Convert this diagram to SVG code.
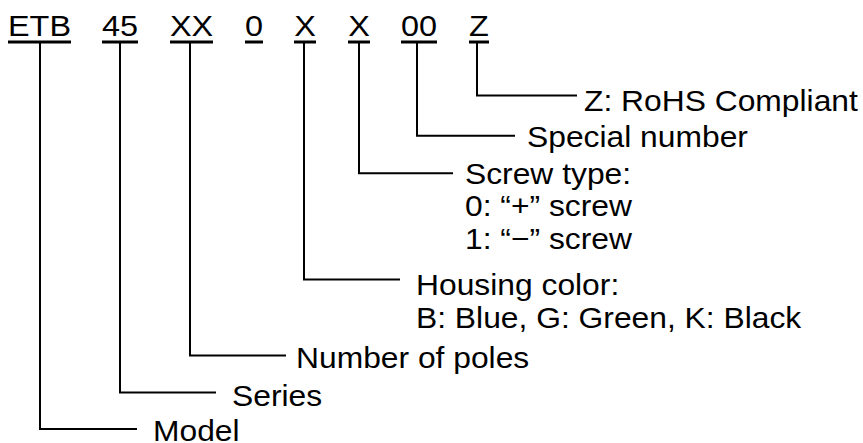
<svg xmlns="http://www.w3.org/2000/svg" width="863" height="443" viewBox="0 0 863 443">
<style>
text{font-family:"Liberation Sans",Arial,Helvetica,sans-serif;font-size:30px;fill:#000}
.code{text-anchor:middle}
.ul{stroke:#000;stroke-width:3;fill:none}
.conn path{stroke:#000;stroke-width:2;fill:none}
</style>
<rect width="863" height="443" fill="#fff"/>
<g id="codes">
<g id="code-etb"><text class="code" transform="matrix(1.08 0 0 1 39.5 36)">ETB</text><line class="ul" x1="8" y1="42" x2="71" y2="42"/></g>
<g id="code-45"><text class="code" transform="matrix(1.08 0 0 1 120 36)">45</text><line class="ul" x1="102" y1="42" x2="138" y2="42"/></g>
<g id="code-xx"><text class="code" transform="matrix(1.08 0 0 1 191.5 36)">XX</text><line class="ul" x1="170" y1="42" x2="213" y2="42"/></g>
<g id="code-0"><text class="code" transform="matrix(1.08 0 0 1 254 36)">0</text><line class="ul" x1="245" y1="42" x2="263" y2="42"/></g>
<g id="code-x1"><text class="code" transform="matrix(1.08 0 0 1 305 36)">X</text><line class="ul" x1="294" y1="42" x2="316" y2="42"/></g>
<g id="code-x2"><text class="code" transform="matrix(1.08 0 0 1 359 36)">X</text><line class="ul" x1="348" y1="42" x2="370" y2="42"/></g>
<g id="code-00"><text class="code" transform="matrix(1.08 0 0 1 419 36)">00</text><line class="ul" x1="401" y1="42" x2="437" y2="42"/></g>
<g id="code-z"><text class="code" transform="matrix(1.08 0 0 1 479 36)">Z</text><line class="ul" x1="469" y1="42" x2="489" y2="42"/></g>
</g>
<g id="connectors" class="conn">
<path d="M477 43V95.5H577"/>
<path d="M417 43V135.7H515"/>
<path d="M359 43V173.3H453"/>
<path d="M304 43V279.5H400"/>
<path d="M190 43V355.5H286"/>
<path d="M120 43V392.5H216"/>
<path d="M40 43V429H137"/>
</g>
<g id="label-rohs"><text transform="matrix(1.06 0 0 1 584 111)">Z: RoHS Compliant</text></g>
<g id="label-special"><text transform="matrix(1.06 0 0 1 527 147)">Special number</text></g>
<g id="label-screw">
<text transform="matrix(1.06 0 0 1 465 183.5)">Screw type:</text>
<text transform="matrix(1.06 0 0 1 465 215.5)">0: “+” screw</text>
<text transform="matrix(1.06 0 0 1 465 248.5)">1: “−” screw</text>
</g>
<g id="label-housing">
<text transform="matrix(1.06 0 0 1 416 295)">Housing color:</text>
<text transform="matrix(1.06 0 0 1 416 328)">B: Blue, G: Green, K: Black</text>
</g>
<g id="label-poles"><text transform="matrix(1.06 0 0 1 296 368)">Number of poles</text></g>
<g id="label-series"><text transform="matrix(1.06 0 0 1 232 406)">Series</text></g>
<g id="label-model"><text transform="matrix(1.06 0 0 1 153 441)">Model</text></g>
</svg>
